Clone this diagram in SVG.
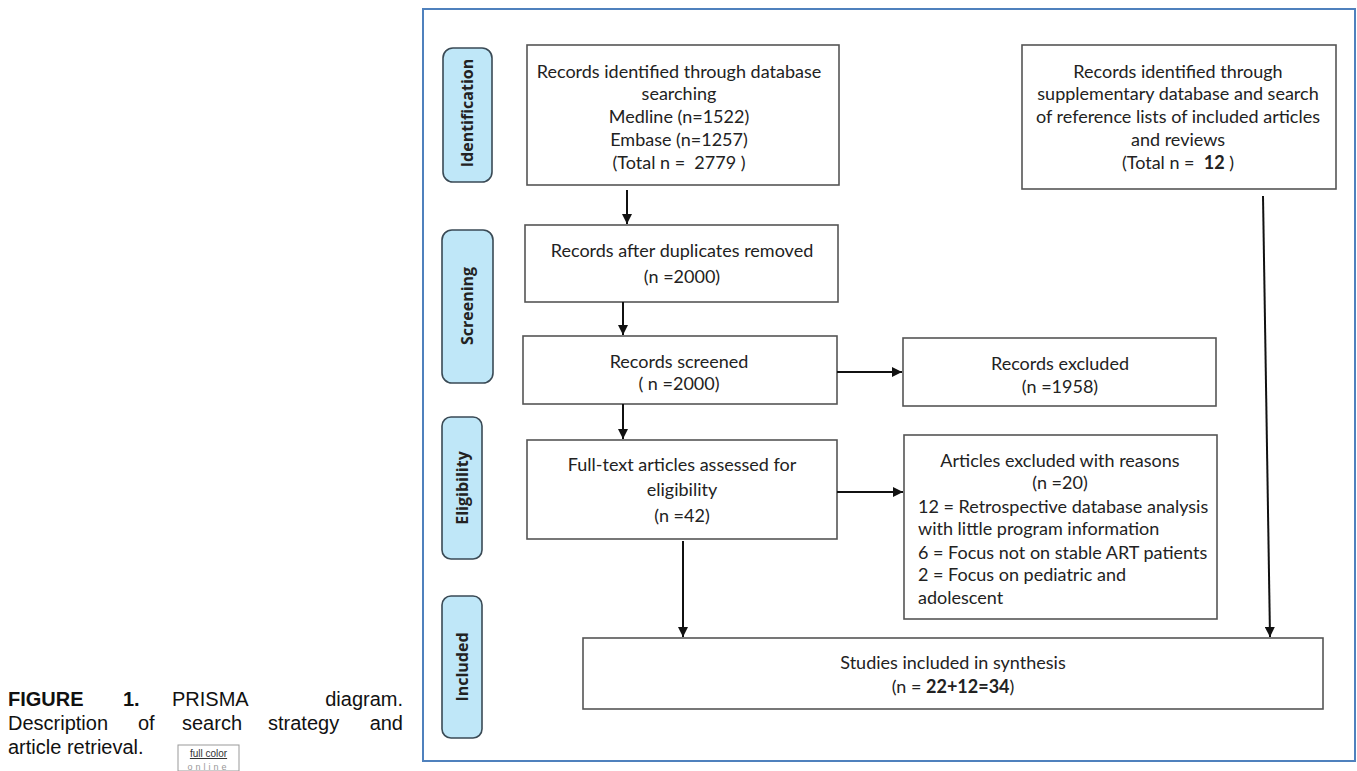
<svg xmlns="http://www.w3.org/2000/svg" width="1357" height="771" viewBox="0 0 1357 771">
<style>
.box{fill:#fff;stroke:#555;stroke-width:1.6}
.phase{fill:#bfe7f8;stroke:#3a4a55;stroke-width:1.6}
.t{font-family:Lato,"Open Sans","Liberation Sans",sans-serif;font-size:18px;fill:#222}
.c{text-anchor:middle}
.p{font-family:"Open Sans","Liberation Sans",sans-serif;font-size:16px;font-weight:bold;fill:#222;text-anchor:middle}
.cap{font-family:"Liberation Sans",Arial,sans-serif;font-size:20px;fill:#111}
.ln{stroke:#111;stroke-width:2;fill:none}
</style>
<defs>
<marker id="ah" viewBox="0 0 10 10" refX="10" refY="5" markerWidth="5" markerHeight="5" orient="auto" markerUnits="strokeWidth">
<path d="M0,0 L10,5 L0,10 z" fill="#111"/>
</marker>
</defs>
<rect width="1357" height="771" fill="#fff"/>
<rect x="423" y="9" width="932" height="752" fill="#fff" stroke="#4f81bd" stroke-width="2"/>

<g id="caption">
<text class="cap" x="8" y="706" font-weight="bold">FIGURE</text>
<text class="cap" x="123" y="706" font-weight="bold">1.</text>
<text class="cap" x="172" y="706">PRISMA</text>
<text class="cap" x="403" y="706" text-anchor="end">diagram.</text>
<text class="cap" x="8" y="730">Description</text>
<text class="cap" x="138" y="730">of</text>
<text class="cap" x="182" y="730">search</text>
<text class="cap" x="268" y="730">strategy</text>
<text class="cap" x="403" y="730" text-anchor="end">and</text>
<text class="cap" x="8" y="754">article retrieval.</text>
<rect x="178" y="745" width="61" height="26" fill="#fff" stroke="#999" stroke-width="1"/>
<text x="208.5" y="757" font-family="'Liberation Sans',Arial,sans-serif" font-size="10" fill="#333" text-anchor="middle" text-decoration="underline">full color</text>
<text x="208.5" y="770" font-family="'Liberation Sans',Arial,sans-serif" font-size="9" fill="#999" text-anchor="middle" letter-spacing="3">online</text>
</g>

<g id="phase-identification">
<rect class="phase" x="443" y="48" width="49" height="134" rx="10"/>
<text class="p" transform="translate(473,113) rotate(-90)">Identification</text>
</g>
<g id="phase-screening">
<rect class="phase" x="442" y="230" width="51" height="153" rx="10"/>
<text class="p" transform="translate(473,306) rotate(-90)">Screening</text>
</g>
<g id="phase-eligibility">
<rect class="phase" x="442" y="417" width="40" height="142" rx="9"/>
<text class="p" transform="translate(468,488) rotate(-90)">Eligibility</text>
</g>
<g id="phase-included">
<rect class="phase" x="442" y="596" width="40" height="142" rx="9"/>
<text class="p" transform="translate(468,667) rotate(-90)">Included</text>
</g>

<g id="node-db">
<rect class="box" x="527" y="45" width="312" height="140"/>
<text class="t c" x="679" y="78">Records identified through database</text>
<text class="t c" x="679" y="100">searching</text>
<text class="t c" x="679" y="123">Medline (n=1522)</text>
<text class="t c" x="679" y="146">Embase (n=1257)</text>
<text class="t c" x="679" y="169" xml:space="preserve">(Total n =  2779 )</text>
</g>
<g id="node-supp">
<rect class="box" x="1022" y="45" width="314" height="144"/>
<text class="t c" x="1178" y="78">Records identified through</text>
<text class="t c" x="1178" y="100">supplementary database and search</text>
<text class="t c" x="1178" y="123">of reference lists of included articles</text>
<text class="t c" x="1178" y="146">and reviews</text>
<text class="t c" x="1178" y="169" xml:space="preserve">(Total n =  <tspan font-weight="bold">12</tspan> )</text>
</g>
<g id="node-dup">
<rect class="box" x="525" y="225" width="313" height="77"/>
<text class="t c" x="682" y="257">Records after duplicates removed</text>
<text class="t c" x="682" y="283">(n =2000)</text>
</g>
<g id="node-screened">
<rect class="box" x="523" y="336" width="314" height="68"/>
<text class="t c" x="679" y="368">Records screened</text>
<text class="t c" x="679" y="390">( n =2000)</text>
</g>
<g id="node-excluded">
<rect class="box" x="903" y="338" width="313" height="68"/>
<text class="t c" x="1060" y="370">Records excluded</text>
<text class="t c" x="1060" y="393">(n =1958)</text>
</g>
<g id="node-fulltext">
<rect class="box" x="527" y="440" width="310" height="99"/>
<text class="t c" x="682" y="471">Full-text articles assessed for</text>
<text class="t c" x="682" y="496">eligibility</text>
<text class="t c" x="682" y="522">(n =42)</text>
</g>
<g id="node-artexcl">
<rect class="box" x="904" y="435" width="313" height="184"/>
<text class="t c" x="1060" y="467">Articles excluded with reasons</text>
<text class="t c" x="1060" y="489">(n =20)</text>
<text class="t" x="918" y="513">12 = Retrospective database analysis</text>
<text class="t" x="918" y="535">with little program information</text>
<text class="t" x="918" y="559">6 = Focus not on stable ART patients</text>
<text class="t" x="918" y="581">2 = Focus on pediatric and</text>
<text class="t" x="918" y="604">adolescent</text>
</g>
<g id="node-included">
<rect class="box" x="583" y="638" width="740" height="71"/>
<text class="t c" x="953" y="669">Studies included in synthesis</text>
<text class="t c" x="953" y="693">(n = <tspan font-weight="bold">22+12=34</tspan>)</text>
</g>

<g id="connectors">
<line class="ln" x1="627" y1="190" x2="627" y2="224" marker-end="url(#ah)"/>
<line class="ln" x1="623" y1="302" x2="623" y2="335" marker-end="url(#ah)"/>
<line class="ln" x1="623" y1="404" x2="623" y2="439" marker-end="url(#ah)"/>
<line class="ln" x1="837" y1="372" x2="902" y2="372" marker-end="url(#ah)"/>
<line class="ln" x1="837" y1="492" x2="903" y2="492" marker-end="url(#ah)"/>
<line class="ln" x1="683" y1="541" x2="683" y2="637" marker-end="url(#ah)"/>
<line class="ln" x1="1263" y1="196" x2="1270" y2="637" marker-end="url(#ah)"/>
</g>
</svg>
